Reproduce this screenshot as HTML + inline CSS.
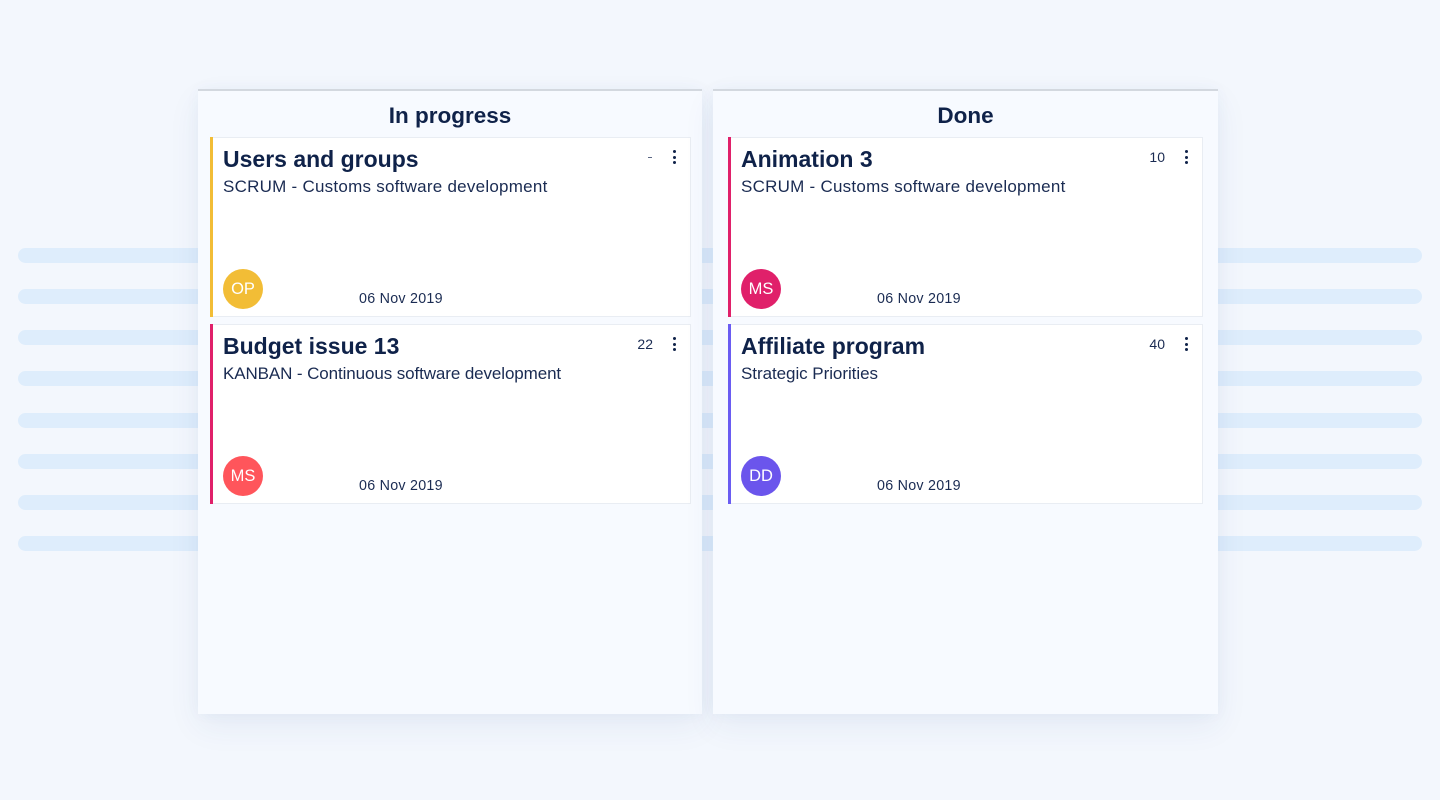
<!DOCTYPE html>
<html>
<head>
<meta charset="utf-8">
<style>
  html, body { margin:0; padding:0; }
  body {
    width:1440px; height:800px; overflow:hidden; position:relative;
    background:#f3f7fd;
    font-family:"Liberation Sans", Arial, sans-serif;
    color:#0f2249;
  }
  .stripe {
    position:absolute; left:18px; width:1404px; height:15px;
    border-radius:8px; background:#deedfc;
  }
  .panel {
    position:absolute; top:89px; height:625px;
    background:#f7faff;
    border-top:2px solid #d3d8df;
    box-sizing:border-box;
    box-shadow:0 12px 30px rgba(40,70,140,0.07), 0 0 14px rgba(60,90,160,0.04);
  }
  .head {
    position:absolute; left:0; right:0; text-align:center;
    top:13.5px; font-size:22.5px; line-height:22.5px; font-weight:bold;
  }
  .card {
    position:absolute; height:180px; background:#fff;
    border:1px solid #e9edf3; box-sizing:border-box;
  }
  .bar { position:absolute; left:-1px; top:-1px; bottom:-1px; width:3px; }
  .title {
    position:absolute; left:12px; top:9.5px; font-size:23px; line-height:23px;
    font-weight:bold; white-space:nowrap;
  }
  .sub {
    position:absolute; left:12px; top:39.9px; font-size:17px; line-height:17px;
    letter-spacing:0.25px; white-space:nowrap; color:#1a2b52;
  }
  .av {
    position:absolute; left:12px; top:131px; width:40px; height:40px; border-radius:50%;
    color:#fff; font-size:16.5px; line-height:41px; text-align:center;
  }
  .date {
    position:absolute; left:148px; top:153.5px; font-size:14.3px; line-height:14.3px;
    letter-spacing:0.25px; white-space:nowrap; color:#1a2b52;
  }
  .num {
    position:absolute; right:37px; top:12px; font-size:14px; line-height:14px;
    white-space:nowrap; color:#1a2b52; text-align:right;
  }
  .dash { position:absolute; right:38px; top:18.5px; width:4px; height:1.5px; background:#5a6784; }
  .keb { position:absolute; right:14px; top:12px; width:4px; height:14px; }
  .keb i { position:absolute; left:0.5px; width:3px; height:3px; border-radius:50%; background:#0f2249; }
</style>
</head>
<body>
  <div class="stripe" style="top:248px"></div>
  <div class="stripe" style="top:289.2px"></div>
  <div class="stripe" style="top:330.3px"></div>
  <div class="stripe" style="top:371.4px"></div>
  <div class="stripe" style="top:412.6px"></div>
  <div class="stripe" style="top:453.7px"></div>
  <div class="stripe" style="top:494.8px"></div>
  <div class="stripe" style="top:536px"></div>

  <!-- Left panel -->
  <div class="panel" style="left:198px; width:504px;">
    <div class="head">In progress</div>

    <div class="card" style="left:12px; top:46px; width:481px;">
      <div class="bar" style="background:#f2bd36"></div>
      <div class="title">Users and groups</div>
      <div class="sub">SCRUM - Customs software development</div>
      <div class="dash"></div>
      <div class="keb"><i style="top:0"></i><i style="top:5.5px"></i><i style="top:11px"></i></div>
      <div class="av" style="background:#f2bd36">OP</div>
      <div class="date">06 Nov 2019</div>
    </div>

    <div class="card" style="left:12px; top:233px; width:481px;">
      <div class="bar" style="background:#e0206a"></div>
      <div class="title">Budget issue 13</div>
      <div class="sub" style="letter-spacing:-0.1px">KANBAN - Continuous software development</div>
      <div class="num">22</div>
      <div class="keb"><i style="top:0"></i><i style="top:5.5px"></i><i style="top:11px"></i></div>
      <div class="av" style="background:#ff555b">MS</div>
      <div class="date">06 Nov 2019</div>
    </div>
  </div>

  <!-- Right panel -->
  <div class="panel" style="left:713px; width:505px;">
    <div class="head">Done</div>

    <div class="card" style="left:15px; top:46px; width:475px;">
      <div class="bar" style="background:#e0206a"></div>
      <div class="title">Animation 3</div>
      <div class="sub">SCRUM - Customs software development</div>
      <div class="num">10</div>
      <div class="keb"><i style="top:0"></i><i style="top:5.5px"></i><i style="top:11px"></i></div>
      <div class="av" style="background:#e0206a">MS</div>
      <div class="date">06 Nov 2019</div>
    </div>

    <div class="card" style="left:15px; top:233px; width:475px;">
      <div class="bar" style="background:#6a5cf2"></div>
      <div class="title">Affiliate program</div>
      <div class="sub" style="letter-spacing:-0.05px">Strategic Priorities</div>
      <div class="num">40</div>
      <div class="keb"><i style="top:0"></i><i style="top:5.5px"></i><i style="top:11px"></i></div>
      <div class="av" style="background:#6b55ec">DD</div>
      <div class="date">06 Nov 2019</div>
    </div>
  </div>
</body>
</html>
